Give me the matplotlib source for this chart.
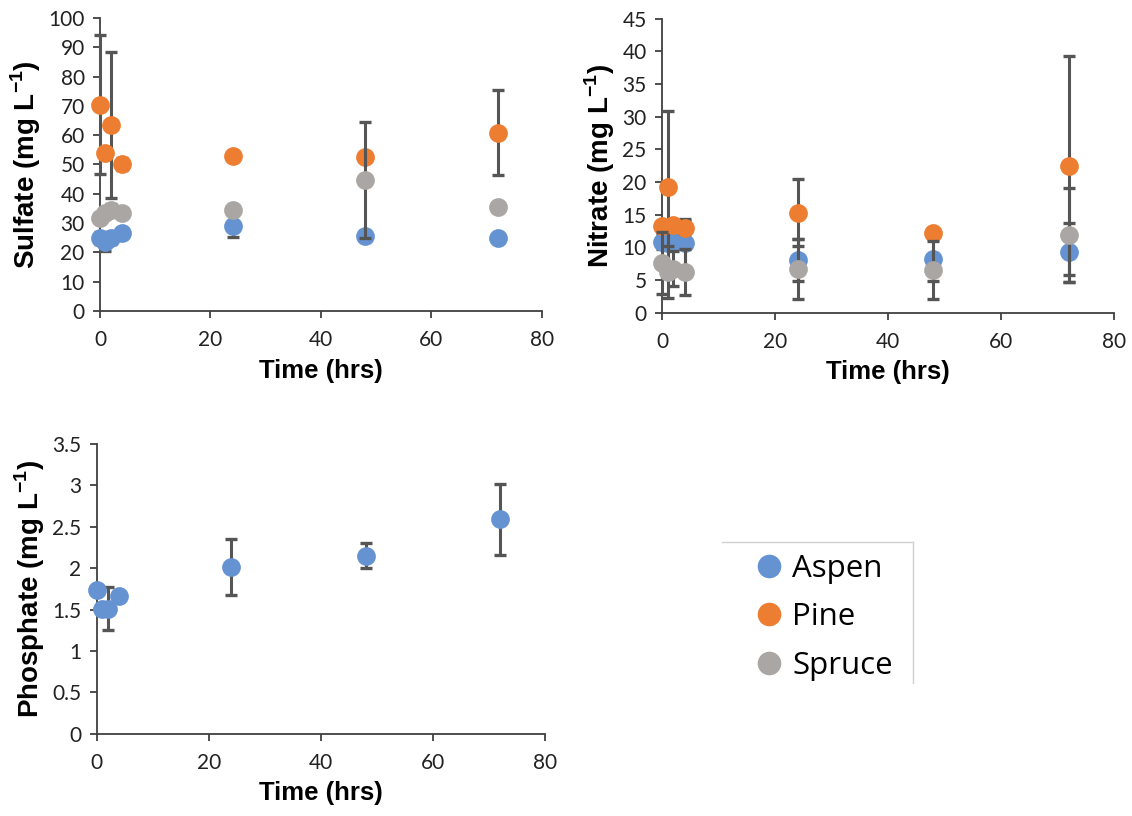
import matplotlib
matplotlib.use('Agg')
import matplotlib.pyplot as plt
from matplotlib.lines import Line2D
from matplotlib.ticker import MultipleLocator, FormatStrFormatter

# ---------------------------- DATA --------------------------------#
time_hrs = [0, 1, 2, 4, 24, 48, 72]
species = ['Aspen', 'Pine', 'Spruce']

sulfate_aspen = [25.0, 23.5, 25.0, 26.5, 29.0, 25.5, 25.0]
sulfate_pine = [70.4, 54.0, 63.5, 50.2, 52.9, 52.5, 60.8]
sulfate_spruce = [31.8, 33.5, 34.4, 33.5, 34.3, 44.7, 35.6]
sulfate_aspen_err = [2.0, 3.0, 2.0, 1.5, 3.8, 1.0, 1.0]
sulfate_pine_err = [23.7, 2.0, 25.0, 2.0, 1.0, 1.0, 14.5]
sulfate_spruce_err = [1.5, 1.5, 2.0, 1.5, 1.0, 19.7, 1.0]

nitrate_aspen = [10.8, 10.6, 10.8, 10.6, 8.1, 8.2, 9.2]
nitrate_pine = [13.2, 19.2, 13.4, 13.0, 15.3, 12.2, 22.5]
nitrate_spruce = [7.6, 6.2, 6.7, 6.2, 6.7, 6.5, 11.8]
nitrate_aspen_err = [1.0, 1.0, 1.0, 3.8, 3.2, 3.4, 4.5]
nitrate_pine_err = [0.5, 11.6, 0.5, 1.0, 5.1, 0.5, 16.8]
nitrate_spruce_err = [4.8, 4.0, 2.7, 3.5, 4.6, 4.4, 7.2]

phosphate_aspen = [1.74, 1.51, 1.51, 1.66, 2.01, 2.15, 2.59]
phosphate_aspen_err = [0.02, 0.02, 0.26, 0.02, 0.34, 0.15, 0.43]

# ---------------------------- STYLE --------------------------------#
colors = ['#6592d0', '#ed7d31', '#aaa6a3']
err_color = '#555555'
axis_color = '#404040'

plt.rcParams.update({
    'font.family': ['Lato', 'DejaVu Sans'],
    'xtick.labelsize': 15,
    'ytick.labelsize': 15,
    'mathtext.fontset': 'custom',
    'mathtext.rm': 'Liberation Sans',
    'mathtext.bf': 'Liberation Sans:bold',
})

fig = plt.figure(figsize=(11.32, 8.16), dpi=100)
ax_s = fig.add_axes([0.0883, 0.619, 0.3905, 0.359])
ax_n = fig.add_axes([0.5848, 0.617, 0.3993, 0.360])
ax_p = fig.add_axes([0.0854, 0.101, 0.3960, 0.3548])


def draw(ax, vals, errs):
    for i, (v, e) in enumerate(zip(vals, errs)):
        ax.errorbar(time_hrs, v, yerr=e, fmt='none', ecolor=err_color,
                    elinewidth=2.2, capsize=4.5, capthick=2.4,
                    zorder=3 + 2 * i, clip_on=False)
        ax.plot(time_hrs, v, linestyle='none', marker='o', markersize=13.5,
                markeredgewidth=0, color=colors[i], zorder=4 + 2 * i,
                clip_on=False)


def style(ax, ymax, ystep, ylabel, fmt='%g'):
    ax.set_xlim(0, 80)
    ax.set_ylim(0, ymax)
    ax.xaxis.set_major_locator(MultipleLocator(20))
    ax.yaxis.set_major_locator(MultipleLocator(ystep))
    ax.yaxis.set_major_formatter(FormatStrFormatter(fmt))
    for s in ['top', 'right']:
        ax.spines[s].set_visible(False)
    for s in ['left', 'bottom']:
        ax.spines[s].set_color(axis_color)
        ax.spines[s].set_linewidth(1.3)
    ax.tick_params(direction='out', length=5, width=1.3, color=axis_color,
                   labelcolor='#222222')
    ax.tick_params(axis='x', pad=9)
    ax.tick_params(axis='y', pad=6)
    ax.set_xlabel('Time (hrs)', fontsize=18.5, fontweight='bold',
                  family='Liberation Sans', labelpad=6)
    ax.set_ylabel(ylabel, fontsize=20, fontweight='bold',
                  family='Liberation Sans', labelpad=4)


draw(ax_s, [sulfate_aspen, sulfate_pine, sulfate_spruce],
     [sulfate_aspen_err, sulfate_pine_err, sulfate_spruce_err])
style(ax_s, 100, 10, r'Sulfate (mg L$^{\mathbf{-1}}$)')

draw(ax_n, [nitrate_aspen, nitrate_pine, nitrate_spruce],
     [nitrate_aspen_err, nitrate_pine_err, nitrate_spruce_err])
style(ax_n, 45, 5, r'Nitrate (mg L$^{\mathbf{-1}}$)')

draw(ax_p, [phosphate_aspen], [phosphate_aspen_err])
style(ax_p, 3.5, 0.5, r'Phosphate (mg L$^{\mathbf{-1}}$)')

# legend
handles = [Line2D([], [], linestyle='none', marker='o', markersize=17,
                  markeredgewidth=0, color=c) for c in colors]
fig.legend(handles, species, loc='upper left', bbox_to_anchor=(0.6475, 0.337),
           frameon=False, prop={'family': 'Open Sans', 'size': 22.5},
           handlelength=1.5, handletextpad=0.0, labelspacing=0.6,
           borderaxespad=0)
fig.add_artist(Line2D([722 / 1132, 913 / 1132], [1 - 542 / 816, 1 - 542 / 816],
                      color='#d0d0d0', linewidth=1))
fig.add_artist(Line2D([913 / 1132, 913 / 1132], [1 - 542 / 816, 1 - 683 / 816],
                      color='#d0d0d0', linewidth=1))

fig.savefig('out.png', dpi=100)
